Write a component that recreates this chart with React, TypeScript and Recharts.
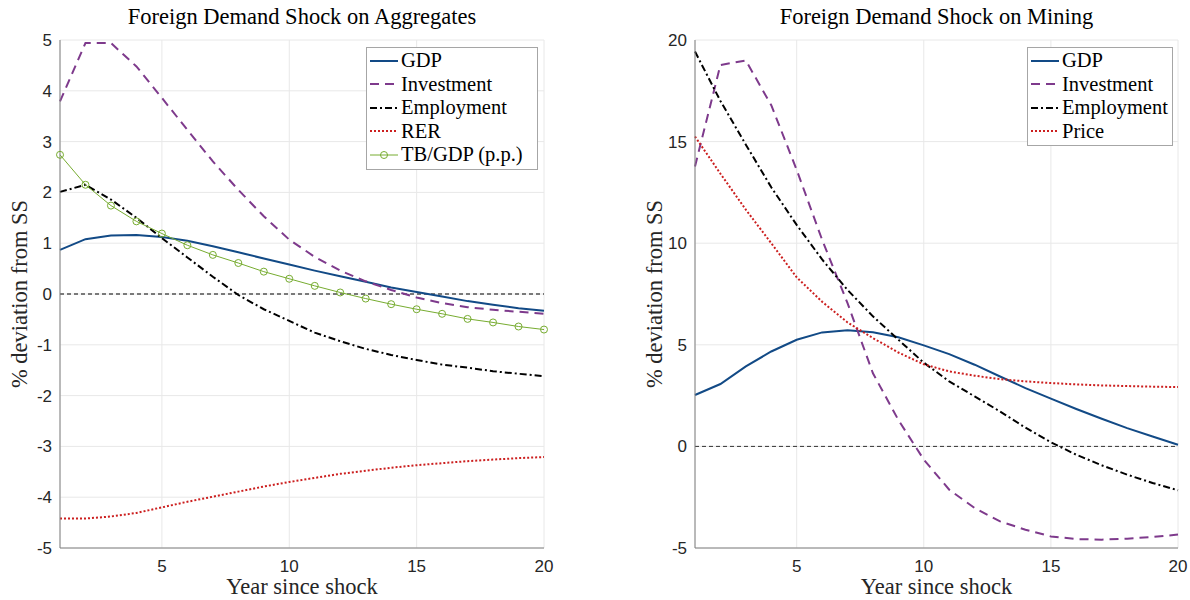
import { LineChart, Line, XAxis, YAxis, CartesianGrid, ReferenceLine } from "recharts";

// impulse responses, years 1..20 after the shock
const years = [1, 2, 3, 4, 5, 6, 7, 8, 9, 10, 11, 12, 13, 14, 15, 16, 17, 18, 19, 20];

const aggGdp = [0.87, 1.08, 1.15, 1.16, 1.12, 1.05, 0.94, 0.82, 0.7, 0.58, 0.46, 0.35, 0.24, 0.13, 0.04, -0.05, -0.14, -0.21, -0.28, -0.33];
const aggInvestment = [3.79, 4.94, 4.94, 4.48, 3.86, 3.23, 2.61, 2.05, 1.53, 1.07, 0.73, 0.46, 0.25, 0.08, -0.07, -0.18, -0.26, -0.31, -0.35, -0.39];
const aggEmployment = [2.01, 2.15, 1.86, 1.5, 1.1, 0.72, 0.34, -0.02, -0.3, -0.53, -0.76, -0.93, -1.08, -1.2, -1.3, -1.39, -1.45, -1.52, -1.57, -1.62];
const aggRer = [-4.42, -4.42, -4.38, -4.31, -4.2, -4.09, -3.99, -3.89, -3.79, -3.7, -3.62, -3.54, -3.48, -3.42, -3.37, -3.33, -3.29, -3.26, -3.23, -3.21];
const aggTb = [2.74, 2.15, 1.74, 1.43, 1.19, 0.96, 0.77, 0.61, 0.44, 0.3, 0.16, 0.03, -0.09, -0.2, -0.3, -0.39, -0.49, -0.56, -0.64, -0.7];

const minGdp = [2.53, 3.07, 3.94, 4.67, 5.25, 5.61, 5.71, 5.62, 5.37, 4.97, 4.54, 4.02, 3.44, 2.87, 2.35, 1.84, 1.36, 0.9, 0.49, 0.08];
const minInvestment = [13.78, 18.77, 18.99, 16.79, 13.61, 10.17, 7.05, 3.6, 1.3, -0.65, -2.13, -3.03, -3.69, -4.1, -4.43, -4.56, -4.59, -4.54, -4.46, -4.34];
const minEmployment = [19.43, 17.0, 14.85, 12.75, 10.9, 9.2, 7.7, 6.4, 5.25, 4.12, 3.2, 2.46, 1.72, 0.92, 0.2, -0.41, -0.93, -1.39, -1.8, -2.16];
const minPrice = [15.25, 13.42, 11.65, 10.0, 8.32, 7.12, 6.1, 5.33, 4.62, 4.04, 3.69, 3.48, 3.31, 3.2, 3.12, 3.05, 3.0, 2.97, 2.94, 2.92];

const xTicks = [5, 10, 15, 20];
const aggTicks = [-5, -4, -3, -2, -1, 0, 1, 2, 3, 4, 5];
const minTicks = [-5, 0, 5, 10, 15, 20];

const BLUE = "#124a86";
const PURPLE = "#7e3a8c";
const BLACK = "#000000";
const RED = "#cc1f1f";
const GREEN = "#77ac30";

const SERIF = "'Liberation Serif', 'DejaVu Serif', serif";
const SANS = "'Liberation Sans', Arial, sans-serif";

type Series = {
  key: string;
  name: string;
  color: string;
  dash?: string;
  width: number;
  marker?: boolean;
};

const aggSeries: Series[] = [
  { key: "gdp", name: "GDP", color: BLUE, width: 2 },
  { key: "inv", name: "Investment", color: PURPLE, dash: "9 6", width: 2 },
  { key: "emp", name: "Employment", color: BLACK, dash: "7 3 2 3", width: 2 },
  { key: "rer", name: "RER", color: RED, dash: "2 2", width: 2 },
  { key: "tb", name: "TB/GDP (p.p.)", color: GREEN, width: 1, marker: true },
];

const minSeries: Series[] = [
  { key: "gdp", name: "GDP", color: BLUE, width: 2 },
  { key: "inv", name: "Investment", color: PURPLE, dash: "9 6", width: 2 },
  { key: "emp", name: "Employment", color: BLACK, dash: "7 3 2 3", width: 2 },
  { key: "price", name: "Price", color: RED, dash: "2 2", width: 2 },
];

const aggRows = years.map((year, i) => ({
  year,
  gdp: aggGdp[i],
  inv: aggInvestment[i],
  emp: aggEmployment[i],
  rer: aggRer[i],
  tb: aggTb[i],
}));

const minRows = years.map((year, i) => ({
  year,
  gdp: minGdp[i],
  inv: minInvestment[i],
  emp: minEmployment[i],
  price: minPrice[i],
}));

function LegendBox({ series, left, top, width }: { series: Series[]; left: number; top: number; width: number }) {
  return (
    <div
      style={{
        position: "absolute",
        left,
        top,
        width,
        background: "#fff",
        border: "1px solid #a6a6a6",
        padding: "1px 0 2px 2px",
        fontFamily: SERIF,
        fontSize: 20.5,
        color: "#000",
        lineHeight: "23.5px",
      }}
    >
      {series.map((s) => (
        <div key={s.key} style={{ display: "flex", alignItems: "center", whiteSpace: "nowrap" }}>
          <svg width={30} height={12} style={{ flex: "none", marginRight: 2 }}>
            <line x1={1} y1={6} x2={29} y2={6} stroke={s.color} strokeWidth={s.width} strokeDasharray={s.dash} />
            {s.marker && <circle cx={15} cy={6} r={3.5} fill="none" stroke={s.color} strokeWidth={1} />}
          </svg>
          <span>{s.name}</span>
        </div>
      ))}
    </div>
  );
}

type PanelProps = {
  left: number;
  width: number;
  axisWidth: number;
  rightGap: number;
  title: string;
  rows: Record<string, number>[];
  series: Series[];
  domain: [number, number];
  ticks: number[];
  zeroColor: string;
};

function Panel({ left, width, axisWidth, rightGap, title, rows, series, domain, ticks, zeroColor }: PanelProps) {
  const plotLeft = axisWidth;
  const plotRight = width - rightGap;
  const centre = (plotLeft + plotRight) / 2;
  return (
    <div style={{ position: "absolute", left, top: 0, width, height: 600 }}>
      <LineChart width={width} height={600} data={rows} margin={{ top: 40, right: rightGap, left: 0, bottom: 0 }}>
        <CartesianGrid stroke="#e8e8e8" strokeWidth={1} />
        <XAxis
          dataKey="year"
          type="number"
          domain={[1, 20]}
          ticks={xTicks}
          height={52}
          tickLine={false}
          tickMargin={6}
          axisLine={{ stroke: "#808080" }}
          tick={{ fill: "#262626", fontSize: 17, fontFamily: SANS }}
        />
        <YAxis
          type="number"
          domain={domain}
          ticks={ticks}
          width={axisWidth}
          allowDataOverflow
          tickLine={false}
          axisLine={{ stroke: "#808080" }}
          tick={{ fill: "#262626", fontSize: 17, fontFamily: SANS }}
        />
        <ReferenceLine y={0} stroke={zeroColor} strokeDasharray="4 3" strokeWidth={1} />
        {series.map((s) => (
          <Line
            key={s.key}
            type="linear"
            dataKey={s.key}
            stroke={s.color}
            strokeWidth={s.width}
            strokeDasharray={s.dash}
            dot={s.marker ? { r: 3.5, fill: "none", stroke: s.color, strokeWidth: 1 } : false}
            activeDot={false}
            isAnimationActive={false}
          />
        ))}
      </LineChart>
      <div
        style={{
          position: "absolute",
          left: centre - 250,
          width: 500,
          top: 4,
          textAlign: "center",
          fontFamily: SERIF,
          fontSize: 22.5,
          color: "#000",
        }}
      >
        {title}
      </div>
      <div
        style={{
          position: "absolute",
          left: centre - 200,
          width: 400,
          top: 574,
          textAlign: "center",
          fontFamily: SERIF,
          fontSize: 22.5,
          color: "#262626",
        }}
      >
        Year since shock
      </div>
      <div
        style={{
          position: "absolute",
          left: plotLeft - 40 - 150,
          top: 294 - 13,
          width: 300,
          height: 26,
          textAlign: "center",
          transform: "rotate(-90deg)",
          fontFamily: SERIF,
          fontSize: 22.5,
          color: "#262626",
        }}
      >
        % deviation from SS
      </div>
    </div>
  );
}

export default function App() {
  return (
    <div style={{ position: "absolute", left: 0, top: 0, width: 1190, height: 600, background: "#fff" }}>
      <Panel
        left={0}
        width={595}
        axisWidth={60}
        rightGap={51}
        title="Foreign Demand Shock on Aggregates"
        rows={aggRows}
        series={aggSeries}
        domain={[-5, 5]}
        ticks={aggTicks}
        zeroColor="#000"
      />
      <Panel
        left={595}
        width={595}
        axisWidth={100}
        rightGap={12}
        title="Foreign Demand Shock on Mining"
        rows={minRows}
        series={minSeries}
        domain={[-5, 20]}
        ticks={minTicks}
        zeroColor="#333"
      />
      <LegendBox series={aggSeries} left={366} top={47} width={168} />
      <LegendBox series={minSeries} left={1027} top={47} width={142} />
    </div>
  );
}
